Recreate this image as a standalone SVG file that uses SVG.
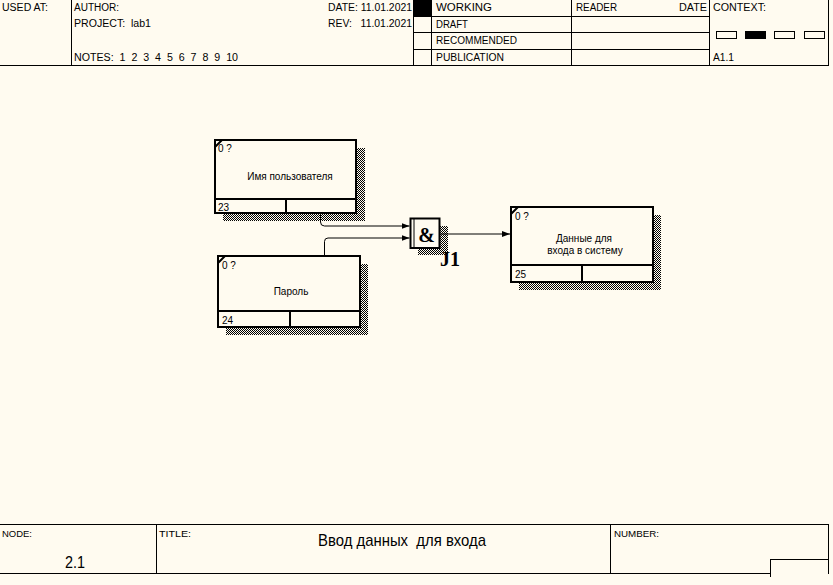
<svg xmlns="http://www.w3.org/2000/svg" width="833" height="585" viewBox="0 0 833 585">
  <defs>
    <style>
      .frame { stroke: #000; stroke-width: 1; fill: none; shape-rendering: crispEdges; }
      .box { stroke: #000; stroke-width: 2; fill: #fffbf0; }
      .div { stroke: #000; stroke-width: 2; fill: none; }
      .lbl { font-family: "Liberation Sans", Arial, sans-serif; font-size: 10px; fill: #000; }
      .small { font-family: "Liberation Sans", Arial, sans-serif; font-size: 9px; fill: #000; }
      .big { font-family: "Liberation Sans", Arial, sans-serif; font-size: 17px; fill: #000; }
      .jn { font-family: "Liberation Serif", "Times New Roman", serif; font-weight: bold; font-size: 20px; fill: #000; }
      .conn { stroke: #000; stroke-width: 1; fill: none; }
      .shadow { fill: url(#hatch); shape-rendering: crispEdges; }
    </style>
    <pattern id="hatch" x="0" y="0" width="2" height="2" patternUnits="userSpaceOnUse">
      <rect x="0" y="0" width="1" height="1" fill="#000" shape-rendering="crispEdges"/>
      <rect x="1" y="1" width="1" height="1" fill="#000" shape-rendering="crispEdges"/>
    </pattern>
    <marker id="arrow" viewBox="0 0 8 6" refX="8" refY="3" markerWidth="8" markerHeight="6" markerUnits="userSpaceOnUse" orient="auto">
      <path d="M0,0 L8,3 L0,6 Z" fill="#000"/>
    </marker>
  </defs>

  <rect width="833" height="585" fill="#fffbf0"/>

  <!-- header frame -->
  <g id="header">
    <rect x="414" y="0" width="17.5" height="16" fill="#000"/>
    <path class="frame" d="M71.5,0 V66 M413.5,0 V66 M431.5,0 V66 M571.5,0 V66 M709.5,0 V66 M828.5,0 V66 M0,65.5 H829 M413,16.5 H709 M413,32.5 H709 M413,49.5 H709"/>
    <rect class="frame" x="716.5" y="31.5" width="20" height="7"/>
    <rect x="745" y="31" width="21" height="8" fill="#000"/>
    <rect class="frame" x="774.5" y="31.5" width="20" height="7"/>
    <rect class="frame" x="804.5" y="31.5" width="20" height="7"/>
    <text class="lbl" x="2" y="11" textLength="46" lengthAdjust="spacingAndGlyphs">USED AT:</text>
    <text class="lbl" x="74" y="11" textLength="45" lengthAdjust="spacingAndGlyphs">AUTHOR:</text>
    <text class="lbl" x="74" y="27" xml:space="preserve" textLength="77" lengthAdjust="spacingAndGlyphs">PROJECT:  lab1</text>
    <text class="lbl" x="74" y="61" xml:space="preserve" textLength="164" lengthAdjust="spacingAndGlyphs">NOTES:  1  2  3  4  5  6  7  8  9  10</text>
    <text class="lbl" x="328" y="11" textLength="84" lengthAdjust="spacingAndGlyphs">DATE: 11.01.2021</text>
    <text class="lbl" x="328" y="27" xml:space="preserve" textLength="84" lengthAdjust="spacingAndGlyphs">REV:   11.01.2021</text>
    <text class="lbl" x="436" y="11" textLength="56" lengthAdjust="spacingAndGlyphs">WORKING</text>
    <text class="lbl" x="436" y="28" textLength="32" lengthAdjust="spacingAndGlyphs">DRAFT</text>
    <text class="lbl" x="436" y="44" textLength="81" lengthAdjust="spacingAndGlyphs">RECOMMENDED</text>
    <text class="lbl" x="436" y="61" textLength="68" lengthAdjust="spacingAndGlyphs">PUBLICATION</text>
    <text class="lbl" x="576" y="11" textLength="41" lengthAdjust="spacingAndGlyphs">READER</text>
    <text class="lbl" x="679" y="11" textLength="28" lengthAdjust="spacingAndGlyphs">DATE</text>
    <text class="lbl" x="713" y="11" textLength="53" lengthAdjust="spacingAndGlyphs">CONTEXT:</text>
    <text class="lbl" x="713" y="61" textLength="21" lengthAdjust="spacingAndGlyphs">A1.1</text>
  </g>

  <!-- footer frame -->
  <g id="footer">
    <path class="frame" d="M0,524.5 H829 M156.5,524 V573 M610.5,524 V573 M828.5,524 V574 M0,573.5 H771 M770.5,559 V577 M770,559.5 H829"/>
    <text class="small" x="2" y="537" textLength="30" lengthAdjust="spacingAndGlyphs">NODE:</text>
    <text class="small" x="159" y="537" textLength="32" lengthAdjust="spacingAndGlyphs">TITLE:</text>
    <text class="small" x="614" y="537" textLength="45" lengthAdjust="spacingAndGlyphs">NUMBER:</text>
    <text class="big" x="65" y="568" textLength="20" lengthAdjust="spacingAndGlyphs">2.1</text>
    <text class="big" x="318" y="546" xml:space="preserve" textLength="168" lengthAdjust="spacingAndGlyphs">Ввод данных  для входа</text>
  </g>

  <!-- drop shadows behind boxes and junction -->
  <rect class="shadow" x="223" y="148" width="142" height="73"/>
  <rect class="shadow" x="226" y="264" width="142" height="71"/>
  <rect class="shadow" x="519" y="215" width="142" height="75"/>
  <rect class="shadow" x="418" y="226" width="30" height="29"/>

  <g id="node-23">
    <rect class="box" x="215" y="140" width="141" height="73"/>
    <path class="div" d="M215,199 H356 M286,199 V213 M215,147 L222,140"/>
    <text class="lbl" x="218" y="152">0 ?</text>
    <text class="lbl" x="290" y="180" text-anchor="middle">Имя пользователя</text>
    <text class="lbl" x="218" y="211">23</text>
  </g>

  <g id="node-24">
    <rect class="box" x="218" y="256" width="142" height="71"/>
    <path class="div" d="M218,311 H360 M290,311 V327 M218,263 L225,256"/>
    <text class="lbl" x="222" y="269">0 ?</text>
    <text class="lbl" x="291" y="295" text-anchor="middle">Пароль</text>
    <text class="lbl" x="222" y="324">24</text>
  </g>

  <g id="node-25">
    <rect class="box" x="511" y="207" width="142" height="75"/>
    <path class="div" d="M511,265 H653 M582,265 V282 M511,214 L518,207"/>
    <text class="lbl" x="515" y="220">0 ?</text>
    <text class="lbl" x="584" y="242" text-anchor="middle">Данные для</text>
    <text class="lbl" x="585" y="254" text-anchor="middle">входа в систему</text>
    <text class="lbl" x="515" y="278">25</text>
  </g>

  <g id="junction-J1">
    <rect class="box" x="410.5" y="218.5" width="29" height="29.5"/>
    <path class="conn" d="M414,218.5 V248"/>
    <text class="jn" x="426.5" y="242" text-anchor="middle">&amp;</text>
    <text class="jn" x="440" y="266">J1</text>
  </g>

  <g id="connectors">
    <path class="conn" d="M320.5,214 V222 Q320.5,226 324.5,226 H409.5" marker-end="url(#arrow)"/>
    <path class="conn" d="M324.5,255 V241.5 Q324.5,238 328,238 H409.5" marker-end="url(#arrow)"/>
    <path class="conn" d="M440.5,234 H510" marker-end="url(#arrow)"/>
  </g>
</svg>
